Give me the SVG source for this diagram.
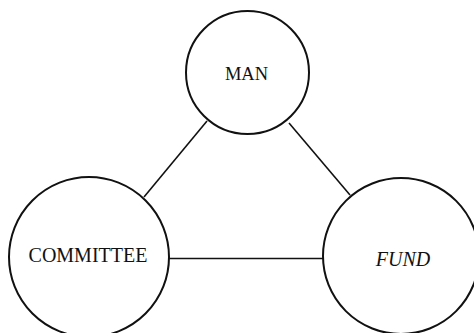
<svg xmlns="http://www.w3.org/2000/svg" width="474" height="333" viewBox="0 0 474 333">
<style>
.node circle{fill:none;stroke:#111;stroke-width:2}
.edges line{stroke:#111;stroke-width:1.6}
text{font-family:"Liberation Serif","Times New Roman",serif;fill:#111;text-anchor:middle}
</style>
<rect width="474" height="333" fill="#fff"/>
<g class="edges" id="connectors">
<line x1="207" y1="121" x2="144" y2="197"/>
<line x1="289" y1="123" x2="350" y2="195"/>
<line x1="169" y1="258.5" x2="323" y2="258.5"/>
</g>
<g class="node" id="man">
<circle cx="247.5" cy="72.5" r="61.5"/>
<text x="246.5" y="79.5" font-size="18.5">MAN</text>
</g>
<g class="node" id="committee">
<circle cx="89" cy="257" r="80"/>
<text x="88" y="262" font-size="20">COMMITTEE</text>
</g>
<g class="node" id="fund">
<circle cx="401" cy="256" r="78"/>
<text x="403" y="266" font-size="20" font-style="italic">FUND</text>
</g>
</svg>
